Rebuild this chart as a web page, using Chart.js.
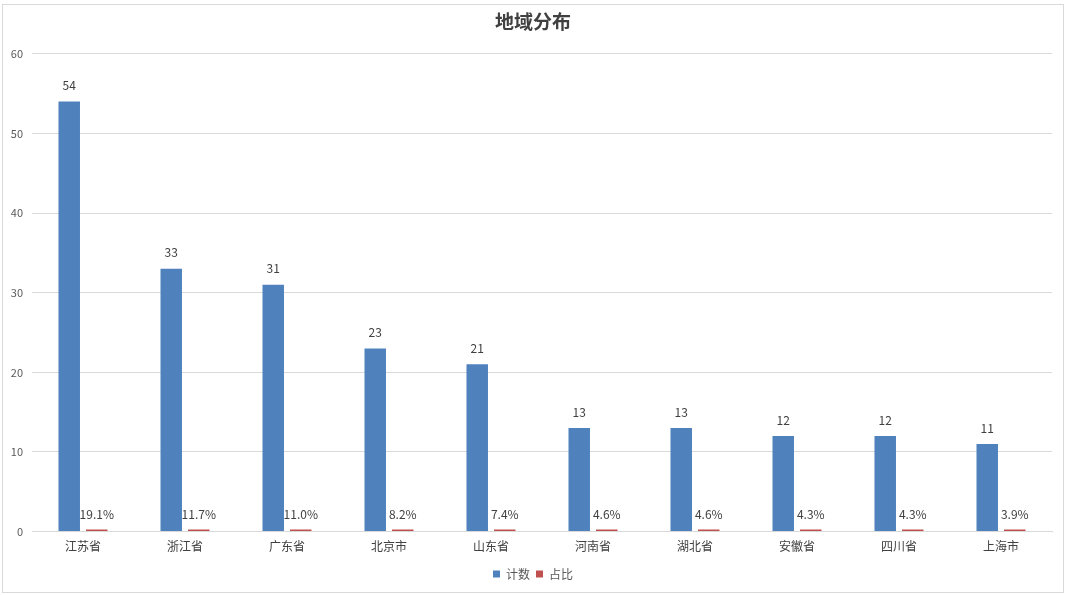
<!DOCTYPE html>
<html><head><meta charset="utf-8">
<script src="https://cdn.jsdelivr.net/npm/chart.js@4"></script>
<style>
html,body{margin:0;padding:0;background:#fff;}
#wrap{position:absolute;left:2px;top:4px;width:1060px;height:587px;border:1px solid #d9d9d9;}
canvas{display:block;}
</style></head>
<body>
<div id="wrap"><canvas id="c"></canvas></div>
<script>
const chartTitle = '地域分布';
const categories = ['江苏省','浙江省','广东省','北京市','山东省','河南省','湖北省','安徽省','四川省','上海市'];
const countLabel = '计数';
const shareLabel = '占比';
const counts = [54,33,31,23,21,13,13,12,12,11];
const shares = [0.191,0.117,0.110,0.082,0.074,0.046,0.046,0.043,0.043,0.039];
const yTicks = [0,10,20,30,40,50,60];

const FONT = '"Noto Sans CJK SC","Noto Sans",sans-serif';

const labelPlugin = {
  id:'barLabels',
  afterDatasetsDraw(chart){
    const ctx = chart.ctx;
    ctx.save();
    ctx.font = '12px ' + FONT;
    ctx.fillStyle = '#404040';
    ctx.textAlign = 'center';
    ctx.textBaseline = 'middle';
    chart.data.datasets.forEach((ds,di)=>{
      const meta = chart.getDatasetMeta(di);
      meta.data.forEach((bar,i)=>{
        const v = ds.data[i];
        const txt = di===0 ? String(v) : (v*100).toFixed(1)+'%';
        const top = Math.min(bar.y, bar.base - 2);
        ctx.fillText(txt, bar.x, top - (di===0 ? 16 : 15));
      });
    });
    ctx.restore();
  }
};

new Chart(document.getElementById('c'), {
  type:'bar',
  data:{
    labels:categories,
    datasets:[
      {label:countLabel, data:counts, backgroundColor:'#4f81bd', categoryPercentage:0.54, barPercentage:0.78},
      {label:shareLabel, data:shares, backgroundColor:'#c0504d', categoryPercentage:0.54, barPercentage:0.78, minBarLength:2}
    ]
  },
  options:{
    responsive:true,
    maintainAspectRatio:false,
    animation:false,
    layout:{padding:{left:0,right:0,top:4,bottom:2}},
    plugins:{
      title:{display:true,text:chartTitle,color:'#404040',font:{family:FONT,size:19,weight:'bold'},padding:{top:1,bottom:21}},
      legend:{position:'bottom',labels:{boxWidth:7,boxHeight:7,color:'#595959',font:{family:FONT,size:12},padding:6}},
      tooltip:{enabled:false}
    },
    scales:{
      x:{
        grid:{display:false,drawTicks:false},
        border:{color:'#d9d9d9'},
        ticks:{color:'#404040',font:{family:FONT,size:12},padding:8}
      },
      y:{
        min:0,max:60,
        afterBuildTicks(axis){ axis.ticks = yTicks.map(v=>({value:v})); },
        afterFit(axis){ axis.width = 29; },
        grid:{color:'#d9d9d9',drawTicks:false},
        border:{display:false},
        ticks:{color:'#595959',font:{family:FONT,size:11},padding:9}
      },
      yRight:{
        position:'right',
        min:0,max:60,
        afterFit(axis){ axis.width = 11; },
        grid:{display:false,drawTicks:false},
        border:{display:false},
        ticks:{display:false}
      }
    }
  },
  plugins:[labelPlugin]
});
</script>
</body></html>
